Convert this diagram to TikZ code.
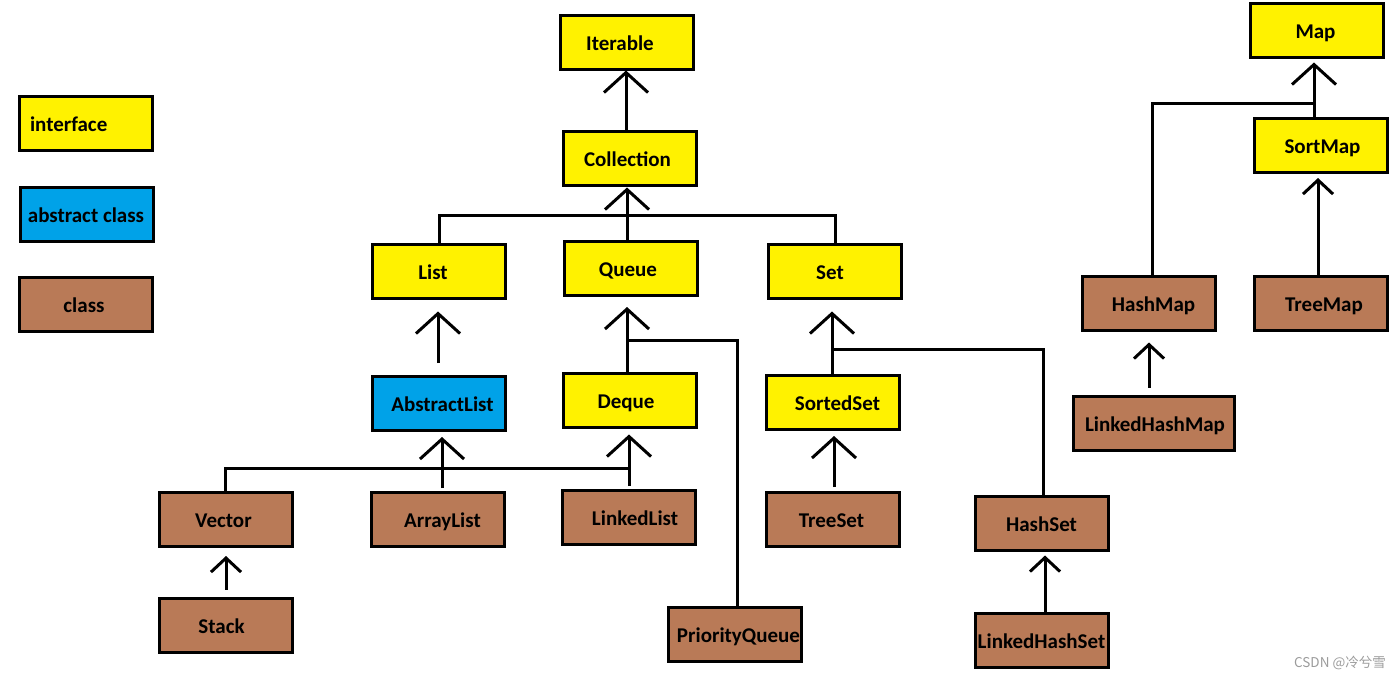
\documentclass[tikz,border=0pt]{standalone}
\usepackage{fontspec}
\setmainfont{Carlito}
\newfontfamily\cjk{Noto Sans CJK SC}
\usetikzlibrary{arrows.meta}
\definecolor{ifc}{RGB}{255,242,0}
\definecolor{abc}{RGB}{0,162,232}
\definecolor{clc}{RGB}{185,122,87}
\definecolor{wm}{RGB}{155,155,155}
\newcommand\tsh[2]{\kern#1pt#2\kern-#1pt}
\tikzset{
  box/.style={draw=black, line width=3pt, minimum width=133pt, minimum height=54pt, inner sep=0pt,
    text height=18pt, text depth=1.4pt,
    font=\fontsize{21}{24}\selectfont\bfseries, text=black},
  itf/.style={box, fill=ifc},
  abs/.style={box, fill=abc},
  cls/.style={box, fill=clc},
  conn/.style={line width=3pt, line join=miter},
  inh/.style={conn, -{Straight Barb[length=20pt,width=44pt,line width=3pt]}},
  inhs/.style={conn, -{Straight Barb[length=14pt,width=30pt,line width=3pt]}},
}
\begin{document}
\begin{tikzpicture}[x=1pt,y=-1pt]
\useasboundingbox (0,0) rectangle (1400,680);
% legend
\node[itf, text width=112pt, align=left] (Lint) at (86,123.5) {interface};
\node[abs] (Labs) at (87,214.5) {\tsh{-1}{abstract class}};
\node[cls] (Lcls) at (86,304.5) {\tsh{-2}{class}};
% collection hierarchy
\node[itf] (Iterable) at (626.5,42) {\tsh{-6.5}{Iterable}};
\node[itf] (Collection) at (629.5,158) {\tsh{-2}{Collection}};
\node[itf] (List) at (439,271) {\tsh{-6}{List}};
\node[itf] (Queue) at (630.5,268.5) {\tsh{-2.5}{Queue}};
\node[itf] (Set) at (835,271) {\tsh{-5}{Set}};
\node[abs] (AbstractList) at (438.5,403.5) {\tsh{4}{AbstractList}};
\node[itf] (Deque) at (629.5,400) {\tsh{-3.5}{Deque}};
\node[itf] (SortedSet) at (833,402.5) {\tsh{4.5}{SortedSet}};
\node[cls] (Vector) at (225.5,519.5) {\tsh{-2}{Vector}};
\node[cls] (ArrayList) at (437.5,519.5) {\tsh{5}{ArrayList}};
\node[cls] (LinkedList) at (628.5,517.5) {\tsh{6.5}{LinkedList}};
\node[cls] (TreeSet) at (832.5,519.5) {\tsh{-1}{TreeSet}};
\node[cls] (HashSet) at (1041.5,523) {HashSet};
\node[cls] (Stack) at (225.5,625) {\tsh{-4}{Stack}};
\node[cls] (PriorityQueue) at (734.5,634) {\tsh{4}{PriorityQueue}};
\node[cls] (LinkedHashSet) at (1041.5,640) {LinkedHashSet};
% map hierarchy
\node[itf] (Map) at (1317,30) {\tsh{-1.5}{Map}};
\node[itf] (SortMap) at (1320.5,145.5) {\tsh{2}{SortMap}};
\node[cls] (HashMap) at (1149,303) {\tsh{4.5}{HashMap}};
\node[cls] (TreeMap) at (1320.5,303) {\tsh{3.5}{TreeMap}};
\node[cls, minimum width=161pt] (LinkedHashMap) at (1154,423) {\tsh{1}{LinkedHashMap}};
% junctions
\coordinate (cJ) at (627,215);
\coordinate (qJ) at (627,340);
\coordinate (sJ) at (832,349);
\coordinate (aJ) at (442,468);
\coordinate (lJ) at (629,468);
\coordinate (mJ) at (1314,103);
% connectors
\draw[inh] (Collection.north -| 626,0) -- (Iterable.south -| 626,0);
\draw[inh, shorten >=1pt] (Queue.north -| cJ) -- (Collection.south -| cJ);
\draw[conn] (List.north) |- (cJ) -| (Set.north);
\draw[inh, shorten >=12pt, shorten <=12pt] (AbstractList.north -| 438,0) -- (List.south -| 438,0);
\draw[inh, shorten >=10pt] (Deque.north -| qJ) -- (Queue.south -| qJ);
\draw[conn] (qJ) -| (PriorityQueue.north -| 737,0);
\draw[inh, shorten >=12pt] (SortedSet.north -| sJ) -- (Set.south -| sJ);
\draw[conn] (sJ) -| (HashSet.north -| 1043,0);
\draw[inh, shorten >=5pt, shorten <=4pt] (TreeSet.north -| 834,0) -- (SortedSet.south -| 834,0);
\draw[conn] (Vector.north) |- (lJ);
\draw[inh, shorten >=5pt, shorten <=3pt] (ArrayList.north -| aJ) -- (AbstractList.south -| aJ);
\draw[inh, shorten >=6pt, shorten <=3pt] (LinkedList.north -| lJ) -- (Deque.south -| lJ);
\draw[inhs, shorten >=8pt, shorten <=7pt] (Stack.north -| 226,0) -- (Vector.south -| 226,0);
\draw[inhs, shorten >=4pt] (LinkedHashSet.north -| 1045,0) -- (HashSet.south -| 1045,0);
\draw[inh, shorten >=4pt] (SortMap.north -| mJ) -- (Map.south -| mJ);
\draw[conn] (HashMap.north -| 1152,0) |- (mJ);
\draw[inhs, shorten >=4pt] (TreeMap.north -| 1318,0) -- (SortMap.south -| 1318,0);
\draw[inhs, shorten >=11pt, shorten <=7pt] (LinkedHashMap.north -| 1149,0) -- (HashMap.south -| 1149,0);
% watermark
\node[anchor=east, text=wm, font=\cjk\fontsize{13.5}{15}\selectfont, inner sep=0pt] (wmk) at (1386,663) {CSDN @冷兮雪};
\end{tikzpicture}
\end{document}
